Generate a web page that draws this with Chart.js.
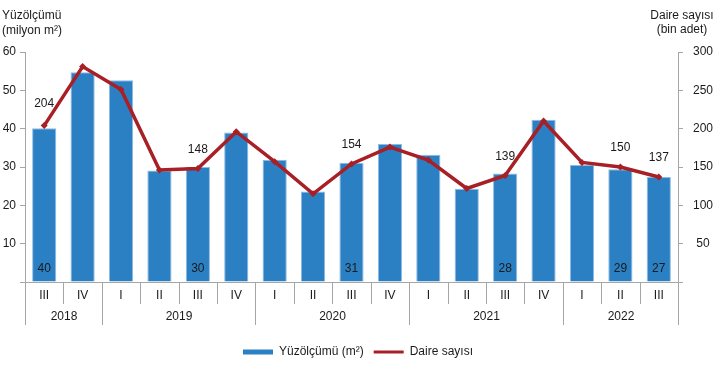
<!DOCTYPE html>
<html>
<head>
<meta charset="utf-8">
<script src="https://cdn.jsdelivr.net/npm/chart.js@4/dist/chart.umd.min.js"></script>
<style>
  html, body { margin: 0; padding: 0; background: #fff; }
  #wrap { width: 716px; height: 383px; }
</style>
</head>
<body>
<div id="wrap"><canvas id="insaat"></canvas></div>
<script>
var quarters = ['III', 'IV', 'I', 'II', 'III', 'IV', 'I', 'II', 'III', 'IV', 'I', 'II', 'III', 'IV', 'I', 'II', 'III'];
var years = ['2018', '2018', '2019', '2019', '2019', '2019', '2020', '2020', '2020', '2020',
             '2021', '2021', '2021', '2021', '2022', '2022', '2022'];
var yuzolcumu = [40.1, 54.7, 52.6, 29.1, 30.0, 39.0, 31.9, 23.6, 31.1, 36.0, 33.2, 24.3, 28.3, 42.3, 30.5, 29.4, 27.4];
var daireSayisi = [204, 281, 251, 146, 148, 196, 157, 115, 154, 176, 159, 122, 139, 210, 156, 150, 137];
var leftTicks = [10, 20, 30, 40, 50, 60];
var rightTicks = [50, 100, 150, 200, 250, 300];
var etiketli = [0, 4, 8, 12, 15, 16];

var FONT = '"Liberation Sans", Arial, sans-serif';
var GRI = '#A6A6A6';
var YAZI = '#1a1a1a';

var ekYazilar = {
    id: 'ekYazilar',
    afterDraw: function(chart) {
        var ctx = chart.ctx;
        var x = chart.scales.x;
        var area = chart.chartArea;
        var n = quarters.length;
        ctx.save();
        ctx.font = '12px ' + FONT;
        ctx.fillStyle = YAZI;

        // eksen altindaki ayiricilar
        var sinir = [];
        for (var i = 0; i <= n; i++) {
            var px;
            if (i === 0) px = x.left;
            else if (i === n) px = x.right;
            else px = (x.getPixelForValue(i - 1) + x.getPixelForValue(i)) / 2;
            sinir.push(Math.round(px) + 0.5);
        }
        ctx.strokeStyle = GRI;
        ctx.lineWidth = 1;
        for (var i = 0; i <= n; i++) {
            var yilSiniri = (i === 0 || i === n || years[i] !== years[i - 1]);
            ctx.beginPath();
            ctx.moveTo(sinir[i], area.bottom);
            ctx.lineTo(sinir[i], area.bottom + (yilSiniri ? 43 : 22));
            ctx.stroke();
        }

        // yillar
        ctx.textAlign = 'center';
        ctx.textBaseline = 'middle';
        var bas = 0;
        for (var i = 1; i <= n; i++) {
            if (i === n || years[i] !== years[bas]) {
                ctx.fillText(years[bas], (sinir[bas] + sinir[i]) / 2, area.bottom + 35);
                bas = i;
            }
        }

        // deger etiketleri
        var barMeta = chart.getDatasetMeta(0);
        var lineMeta = chart.getDatasetMeta(1);
        etiketli.forEach(function(k) {
            var b = barMeta.data[k];
            ctx.fillText(Math.round(yuzolcumu[k]), b.x, area.bottom - 13);
            var p = lineMeta.data[k];
            ctx.fillText(daireSayisi[k], p.x, p.y - (k === 0 ? 22 : 19));
        });

        // eksen basliklari
        ctx.textAlign = 'left';
        ctx.fillText('Yüzölçümü', 2, 16);
        ctx.fillText('(milyon m²)', 2, 31);
        ctx.textAlign = 'center';
        ctx.fillText('Daire sayısı', 682, 16);
        ctx.fillText('(bin adet)', 682, 30);
        ctx.restore();
    }
};

var ctx = document.getElementById('insaat').getContext('2d');

var insaatChart = new Chart(ctx, {
    type: 'bar',
    data: {
        labels: quarters,
        datasets: [{
            label: 'Yüzölçümü (m²)',
            data: yuzolcumu,
            backgroundColor: '#2B7FC3',
            borderColor: '#8DBBE3',
            borderWidth: 1,
            barPercentage: 1,
            categoryPercentage: 0.63,
            yAxisID: 'y',
            order: 1
        },
            {
                type: 'line',
                label: 'Daire sayısı',
                data: daireSayisi,
                borderColor: '#A81F25',
                backgroundColor: '#A81F25',
                borderWidth: 3.5,
                pointStyle: 'rectRot',
                pointRadius: 3.5,
                pointBackgroundColor: '#A81F25',
                pointBorderWidth: 0,
                tension: 0,
                yAxisID: 'y1',
                order: 0
            }]
    },
    options: {
        responsive: true,
        maintainAspectRatio: false,
        animation: false,
        layout: {
            padding: { top: 52, left: 0, right: 0, bottom: 15 }
        },
        plugins: {
            legend: {
                position: 'bottom',
                labels: {
                    font: { family: FONT, size: 12 },
                    color: YAZI,
                    usePointStyle: true,
                    pointStyleWidth: 30,
                    boxHeight: 5,
                    padding: 10,
                    generateLabels: function(chart) {
                        var items = Chart.defaults.plugins.legend.labels.generateLabels(chart);
                        items.sort(function(a, b) { return a.datasetIndex - b.datasetIndex; });
                        items.forEach(function(it) {
                            if (it.datasetIndex === 0) {
                                it.pointStyle = 'rect';
                                it.fillStyle = '#2B7FC3';
                                it.strokeStyle = '#2B7FC3';
                                it.lineWidth = 0;
                            } else {
                                it.pointStyle = 'line';
                                it.strokeStyle = '#A81F25';
                                it.lineWidth = 3;
                            }
                        });
                        return items;
                    }
                }
            },
            tooltip: { enabled: false }
        },
        scales: {
            x: {
                grid: { display: false, drawTicks: false },
                border: { display: true, color: GRI },
                ticks: {
                    font: { family: FONT, size: 12 },
                    color: YAZI,
                    padding: 6,
                    maxRotation: 0,
                    autoSkip: false
                },
                afterFit: function(scale) { scale.height = 54; }
            },
            y: {
                position: 'left',
                min: 0,
                max: leftTicks[leftTicks.length - 1],
                grid: { drawOnChartArea: false, drawTicks: true, tickLength: 5, color: GRI },
                border: { display: true, color: GRI },
                ticks: {
                    stepSize: leftTicks[1] - leftTicks[0],
                    font: { family: FONT, size: 12 },
                    color: YAZI,
                    padding: 4,
                    callback: function(v) { return leftTicks.indexOf(v) >= 0 ? v : ''; }
                },
                afterFit: function(scale) { scale.width = 25; }
            },
            y1: {
                position: 'right',
                min: 0,
                max: rightTicks[rightTicks.length - 1],
                grid: { drawOnChartArea: false, drawTicks: true, tickLength: 5, color: GRI },
                border: { display: true, color: GRI },
                ticks: {
                    stepSize: rightTicks[1] - rightTicks[0],
                    font: { family: FONT, size: 12 },
                    color: YAZI,
                    padding: 10,
                    crossAlign: 'center',
                    callback: function(v) { return rightTicks.indexOf(v) >= 0 ? v : ''; }
                },
                afterFit: function(scale) { scale.width = 38; }
            }
        }
    },
    plugins: [ekYazilar]
});
</script>
</body>
</html>
